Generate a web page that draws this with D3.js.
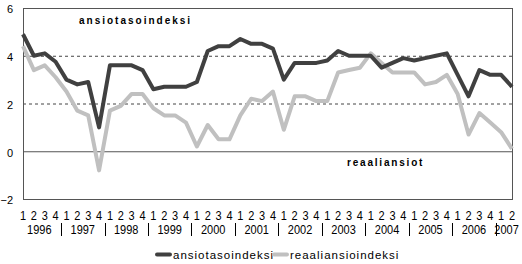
<!DOCTYPE html>
<html>
<head>
<meta charset="utf-8">
<script src="https://cdn.jsdelivr.net/npm/d3@7"></script>
<style>
  body { margin: 0; background: #fff; }
  text { font-family: "Liberation Sans", Arial, sans-serif; fill: #000; }
</style>
</head>
<body>
<div id="chart"></div>
<script>
// quarters 1996Q1 .. 2007Q2
const years = ["1996", "1997", "1998", "1999", "2000", "2001", "2002", "2003", "2004", "2005", "2006", "2007"];
const quarterLabels = ["1", "2", "3", "4"];
const yTicks = [-2, 0, 2, 4, 6];

const ansiotasoindeksi = [
  4.9, 4.0, 4.1, 3.75, 3.0, 2.8, 2.9, 1.0, 3.6, 3.6, 3.6, 3.4,
  2.6, 2.7, 2.7, 2.7, 2.9, 4.2, 4.4, 4.4, 4.7, 4.5, 4.5, 4.3,
  3.0, 3.7, 3.7, 3.7, 3.8, 4.2, 4.0, 4.0, 4.0, 3.5, 3.7, 3.9,
  3.8, 3.9, 4.0, 4.1, 3.2, 2.3, 3.4, 3.2, 3.2, 2.7
];
const reaaliansioindeksi = [
  4.4, 3.4, 3.6, 3.1, 2.5, 1.7, 1.5, -0.8, 1.7, 1.9, 2.4, 2.4,
  1.8, 1.5, 1.5, 1.2, 0.2, 1.1, 0.5, 0.5, 1.5, 2.2, 2.1, 2.5,
  0.9, 2.3, 2.3, 2.1, 2.1, 3.3, 3.4, 3.5, 4.1, 3.7, 3.3, 3.3,
  3.3, 2.8, 2.9, 3.2, 2.4, 0.7, 1.6, 1.2, 0.8, 0.1
];

const width = 522, height = 264;
const margin = {top: 8, right: 10, bottom: 65, left: 23};

const svg = d3.select("#chart").append("svg")
  .attr("width", width)
  .attr("height", height);

const x = d3.scaleLinear()
  .domain([0, ansiotasoindeksi.length - 1])
  .range([margin.left, width - margin.right]);

const y = d3.scaleLinear()
  .domain([-2, 6])
  .range([height - margin.bottom, margin.top]);

const axisColor = "#555";

// dashed gridlines
svg.append("g")
  .selectAll("line")
  .data([2, 4])
  .join("line")
    .attr("x1", x.range()[0])
    .attr("x2", x.range()[1])
    .attr("y1", d => y(d) + 0.5)
    .attr("y2", d => y(d) + 0.5)
    .attr("stroke", "#444")
    .attr("stroke-dasharray", "3,3");

// frame
svg.append("rect")
  .attr("x", x.range()[0] + 0.5)
  .attr("y", y(6) + 0.5)
  .attr("width", x.range()[1] - x.range()[0])
  .attr("height", y(-2) - y(6))
  .attr("fill", "none")
  .attr("stroke", axisColor);

// zero line
svg.append("line")
  .attr("x1", x.range()[0])
  .attr("x2", x.range()[1])
  .attr("y1", y(0) + 0.5)
  .attr("y2", y(0) + 0.5)
  .attr("stroke", axisColor);

// y axis labels
svg.append("g")
  .attr("transform", `translate(${margin.left},0)`)
  .call(d3.axisLeft(y).tickValues(yTicks).tickSize(0).tickPadding(10).tickFormat(d3.format("d")))
  .call(g => g.select(".domain").remove())
  .call(g => g.selectAll("text")
    .attr("font-family", "'Liberation Sans', Arial, sans-serif")
    .attr("font-size", 11)
    .attr("dy", "0.45em")
    .attr("fill", "#000"));

// lines
const line = d3.line()
  .x((d, i) => x(i))
  .y(d => y(d));

svg.append("path")
  .datum(reaaliansioindeksi)
  .attr("fill", "none")
  .attr("stroke", "#c0c0c0")
  .attr("stroke-width", 4)
  .attr("stroke-linejoin", "round")
  .attr("d", line);

svg.append("path")
  .datum(ansiotasoindeksi)
  .attr("fill", "none")
  .attr("stroke", "#404040")
  .attr("stroke-width", 4)
  .attr("stroke-linejoin", "round")
  .attr("d", line);

// category labels: thin digits (horizontally squeezed)
const squeeze = 0.88;
const catSize = 12.5;

const quarters = ansiotasoindeksi.map((d, i) => quarterLabels[i % 4]);
svg.append("g")
  .selectAll("text")
  .data(quarters)
  .join("text")
    .attr("transform", (d, i) => `translate(${x(i)},219.5) scale(${squeeze},1)`)
    .attr("font-size", catSize)
    .attr("text-anchor", "middle")
    .text(d => d);

// year labels, centred under their quarters
const n = ansiotasoindeksi.length;
svg.append("g")
  .selectAll("text")
  .data(years)
  .join("text")
    .attr("transform", (d, i) =>
      `translate(${(x(i * 4) + x(Math.min(i * 4 + 3, n - 1))) / 2},233.5) scale(${squeeze},1)`)
    .attr("font-size", catSize)
    .attr("text-anchor", "middle")
    .text(d => d);

// year separators
svg.append("g")
  .selectAll("line")
  .data(years.slice(1))
  .join("line")
    .attr("x1", (d, i) => Math.round((x(i * 4 + 3) + x(i * 4 + 4)) / 2) + 0.5)
    .attr("x2", (d, i) => Math.round((x(i * 4 + 3) + x(i * 4 + 4)) / 2) + 0.5)
    .attr("y1", 223)
    .attr("y2", 236)
    .attr("stroke", "#000");

// in-chart labels
svg.append("text")
  .attr("x", 79)
  .attr("y", 24)
  .attr("font-size", 10)
  .attr("font-weight", "bold")
  .attr("letter-spacing", "2px")
  .text("ansiotasoindeksi");

svg.append("text")
  .attr("x", 347)
  .attr("y", 166)
  .attr("font-size", 10)
  .attr("font-weight", "bold")
  .attr("letter-spacing", "1.8px")
  .text("reaaliansiot");

// legend
const legend = [
  {name: "ansiotasoindeksi", color: "#404040", x: 156},
  {name: "reaaliansioindeksi", color: "#c0c0c0", x: 273}
];
const lg = svg.append("g").selectAll("g")
  .data(legend)
  .join("g")
    .attr("transform", d => `translate(${d.x},254.5)`);
lg.append("line")
  .attr("x1", 1).attr("x2", 14)
  .attr("stroke", d => d.color)
  .attr("stroke-width", 4)
  .attr("stroke-linecap", "round");
lg.append("text")
  .attr("x", 17)
  .attr("y", 4)
  .attr("font-size", 11.5)
  .attr("letter-spacing", "1px")
  .text(d => d.name);
</script>
</body>
</html>
